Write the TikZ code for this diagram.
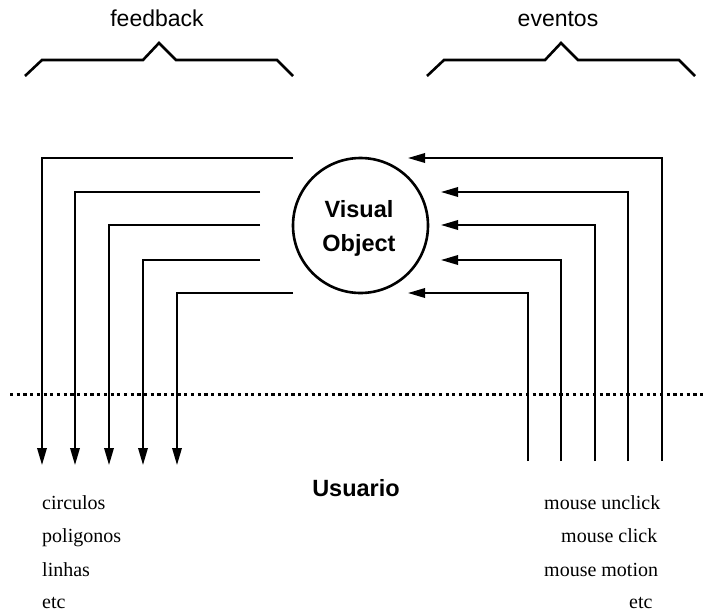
\documentclass[tikz,border=0pt]{standalone}
\usepackage{fontspec}
\setmainfont{Liberation Serif}
\newfontfamily\hv{Liberation Sans}
\usetikzlibrary{arrows.meta}
\begin{document}
\begin{tikzpicture}[x=1pt,y=-1pt,
  brace/.style={line width=2.6pt,line join=miter},
  flow/.style={line width=1.8pt,-{Triangle[length=17pt,width=9.5pt]}},
  head/.style={font=\hv\fontsize{23}{27}\selectfont,inner sep=0pt,anchor=base},
  boldhead/.style={font=\hv\bfseries\fontsize{23.5}{27}\selectfont,inner sep=0pt,anchor=base},
  item/.style={font=\fontsize{20}{24}\selectfont,inner sep=0pt,anchor=base west}]
\useasboundingbox (0,0) rectangle (704,611);

% group titles and braces
\node[head] (fb) at (157,26) {feedback};
\node[head] (ev) at (558,26) {eventos};
\draw[brace] (25,76) -- (42,60) -- (143,60) -- (159,43) -- (176,60) -- (277,60) -- (293,76);
\draw[brace] (427,76) -- (444,60) -- (545,60) -- (561,43) -- (578,60) -- (679,60) -- (695,76);

% the visual object
\node[circle,draw,line width=2.6pt,minimum size=135pt,inner sep=0pt] (vo) at (360.5,225.5) {};
\node[boldhead] (vis) at (359,217) {Visual};
\node[boldhead] (obj) at (359,251.5) {Object};

% feedback paths going down to the user
\coordinate (fs1) at (293,158); \coordinate (fe1) at (42,465);
\coordinate (fs2) at (260,192); \coordinate (fe2) at (75,465);
\coordinate (fs3) at (260,225); \coordinate (fe3) at (109,465);
\coordinate (fs4) at (260,260); \coordinate (fe4) at (143,465);
\coordinate (fs5) at (293,293); \coordinate (fe5) at (177,465);
\foreach \i in {1,...,5} \draw[flow] (fs\i) -| (fe\i);

% event paths coming up from the user
\coordinate (es1) at (662,461); \coordinate (et1) at (408,158);
\coordinate (es2) at (628,461); \coordinate (et2) at (441,192);
\coordinate (es3) at (595,461); \coordinate (et3) at (441,225);
\coordinate (es4) at (561,461); \coordinate (et4) at (441,260);
\coordinate (es5) at (528,461); \coordinate (et5) at (408,293);
\foreach \i in {1,...,5} \draw[flow] (es\i) |- (et\i);

% boundary between object and user
\coordinate (dl) at (10,394); \coordinate (dr) at (704,394);
\draw[line width=3pt,dash pattern=on 3.2pt off 3.5pt] (dl) -- (dr);

\node[boldhead] (us) at (356,496.5) {Usuario};

% feedback kinds
\node[item] (c1) at (42,509) {circulos};
\node[item] (c2) at (42,542) {poligonos};
\node[item] (c3) at (42,576) {linhas};
\node[item] (c4) at (42,608) {etc};

% event kinds
\node[item] (m1) at (544,509) {mouse unclick};
\node[item] (m2) at (561,542) {mouse click};
\node[item] (m3) at (544,576) {mouse motion};
\node[item] (m4) at (629,608) {etc};
\end{tikzpicture}
\end{document}
